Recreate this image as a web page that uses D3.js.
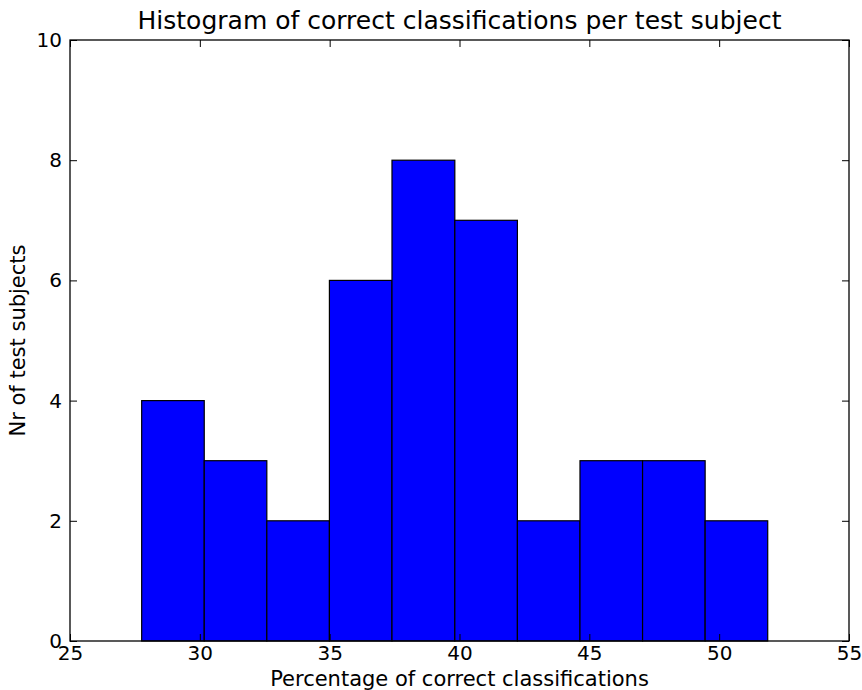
<!DOCTYPE html>
<html>
<head>
<meta charset="utf-8">
<script src="https://cdn.jsdelivr.net/npm/d3@7"></script>
<style>
  body { margin: 0; background: #fff; }
  text { font-family: "DejaVu Sans", sans-serif; fill: #000; }
</style>
</head>
<body>
<div id="chart"></div>
<script>
// Histogram bins (edges) and counts
const binEdges = [27.76, 30.17, 32.58, 34.99, 37.40, 39.82, 42.23, 44.64, 47.05, 49.46, 51.87];
const counts = [4, 3, 2, 6, 8, 7, 2, 3, 3, 2];
const xTicks = [25, 30, 35, 40, 45, 50, 55];
const yTicks = [0, 2, 4, 6, 8, 10];

const titleText = "Histogram of correct classifications per test subject";
const xLabelText = "Percentage of correct classifications";
const yLabelText = "Nr of test subjects";

const width = 862, height = 690;
const margin = { top: 40, right: 13, bottom: 49, left: 70 };

const svg = d3.select("#chart").append("svg")
    .attr("width", width)
    .attr("height", height);

svg.append("rect").attr("width", width).attr("height", height).attr("fill", "#fff");

const x = d3.scaleLinear().domain([25, 55]).range([margin.left, width - margin.right]);
const y = d3.scaleLinear().domain([0, 10]).range([height - margin.bottom, margin.top]);

// bars
const bins = counts.map((c, i) => ({ x0: binEdges[i], x1: binEdges[i + 1], count: c }));
svg.append("g")
    .selectAll("rect")
    .data(bins)
    .enter().append("rect")
    .attr("x", d => x(d.x0))
    .attr("y", d => y(d.count))
    .attr("width", d => x(d.x1) - x(d.x0))
    .attr("height", d => y(0) - y(d.count))
    .attr("fill", "#0000ff")
    .attr("stroke", "#000")
    .attr("stroke-width", 1.2);

// ticks pointing inward on all four sides (matplotlib classic style)
const tickLen = 7;
const tickSize = 20;
const gx = svg.append("g").attr("transform", `translate(0,${y(0)})`)
    .call(d3.axisBottom(x).tickValues(xTicks).tickSizeInner(-tickLen).tickSizeOuter(0).tickPadding(5));
const gxTop = svg.append("g").attr("transform", `translate(0,${y(10)})`)
    .call(d3.axisTop(x).tickValues(xTicks).tickSizeInner(-tickLen).tickSizeOuter(0).tickFormat(""));
const gy = svg.append("g").attr("transform", `translate(${x(25)},0)`)
    .call(d3.axisLeft(y).tickValues(yTicks).tickSizeInner(-tickLen).tickSizeOuter(0).tickPadding(8));
const gyRight = svg.append("g").attr("transform", `translate(${x(55)},0)`)
    .call(d3.axisRight(y).tickValues(yTicks).tickSizeInner(-tickLen).tickSizeOuter(0).tickFormat(""));

[gx, gxTop, gy, gyRight].forEach(g => {
    g.select(".domain").remove();
    g.selectAll(".tick line").attr("stroke", "#000").attr("stroke-width", 1);
    g.selectAll(".tick text")
        .style("font-family", "'DejaVu Sans', sans-serif")
        .style("font-size", tickSize + "px")
        .attr("fill", "#000");
});

// frame
svg.append("rect")
    .attr("x", x(25))
    .attr("y", y(10))
    .attr("width", x(55) - x(25))
    .attr("height", y(0) - y(10))
    .attr("fill", "none")
    .attr("stroke", "#000")
    .attr("stroke-width", 1.3);

// title and axis labels
svg.append("text")
    .attr("x", (x(25) + x(55)) / 2)
    .attr("y", 29)
    .attr("text-anchor", "middle")
    .style("font-size", "25px")
    .text(titleText);

svg.append("text")
    .attr("x", (x(25) + x(55)) / 2)
    .attr("y", 686)
    .attr("text-anchor", "middle")
    .style("font-size", "21px")
    .text(xLabelText);

svg.append("text")
    .attr("transform", `translate(25,${(y(0) + y(10)) / 2}) rotate(-90)`)
    .attr("text-anchor", "middle")
    .style("font-size", "21px")
    .text(yLabelText);
</script>
</body>
</html>
